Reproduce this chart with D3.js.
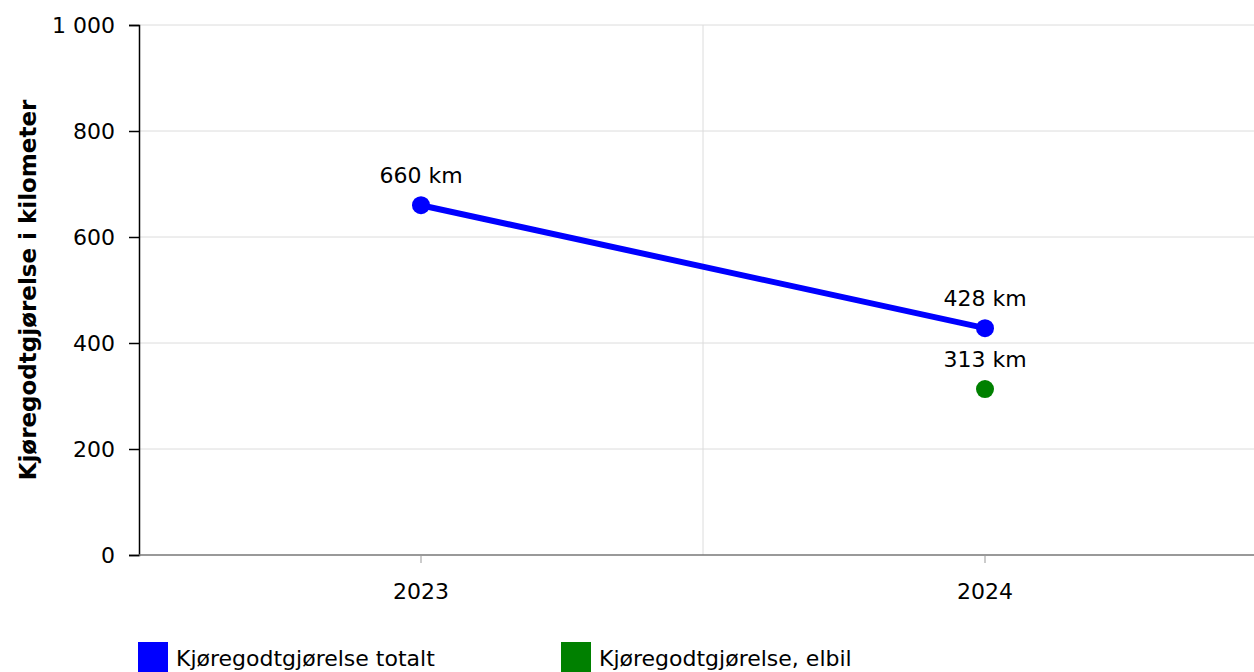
<!DOCTYPE html>
<html lang="no">
<head>
  <meta charset="UTF-8">
  <title>Kjøregodtgjørelse</title>
  <style>
    body { margin: 0; background: #fff; font-family: "DejaVu Sans", Verdana, sans-serif; }
    svg { display: block; }
  </style>
</head>
<body>
  <div id="chart"></div>
  <script src="https://d3js.org/d3.v7.min.js"></script>
  <script>
    // Data
    const years = ["2023", "2024"];
    const totalt = [660, 428];
    const elbil = [null, 313];
    const yTicks = [0, 200, 400, 600, 800, 1000];
    const seriesNames = ["Kjøregodtgjørelse totalt", "Kjøregodtgjørelse, elbil"];
    const seriesColors = ["#0000ff", "#008000"];

    const width = 1254, height = 672;
    const plotLeft = 139, plotTop = 25, plotBottom = 555, plotRight = 1267;
    const fontSize = 22;

    const svg = d3.select("#chart").append("svg")
      .attr("width", width).attr("height", height);

    const x = d3.scaleBand().domain(years).range([plotLeft, plotRight]);
    const y = d3.scaleLinear().domain([0, 1000]).range([plotBottom, plotTop]);
    const fmt = v => d3.format(",")(v).replace(/,/g, " ");

    // Gridlines
    svg.append("g").selectAll("line").data(yTicks.filter(d => d > 0)).join("line")
      .attr("x1", plotLeft).attr("x2", width)
      .attr("y1", d => y(d)).attr("y2", d => y(d))
      .attr("stroke", "#dcdcdc").attr("stroke-width", 1);
    svg.append("line")
      .attr("x1", x("2024")).attr("x2", x("2024"))
      .attr("y1", plotTop).attr("y2", plotBottom)
      .attr("stroke", "#dcdcdc").attr("stroke-width", 1);

    // Y axis
    const yAxis = svg.append("g")
      .attr("transform", `translate(${plotLeft},0)`)
      .call(d3.axisLeft(y).tickValues(yTicks).tickSize(10).tickPadding(14).tickFormat(fmt));
    yAxis.select(".domain").attr("stroke", "#000").attr("stroke-width", 1.5);
    yAxis.selectAll(".tick line").attr("stroke", "#000").attr("stroke-width", 1.5);
    yAxis.selectAll("text").attr("font-size", fontSize).attr("fill", "#000")
      .attr("font-family", "DejaVu Sans, sans-serif");

    // X axis
    const xAxis = svg.append("g")
      .attr("transform", `translate(0,${plotBottom})`)
      .call(d3.axisBottom(x).tickSize(8).tickPadding(20).tickSizeOuter(0));
    xAxis.select(".domain").attr("stroke", "#777").attr("stroke-width", 1.5)
      .attr("d", `M${plotLeft},0H${width}`);
    xAxis.selectAll(".tick line").attr("stroke", "#999");
    xAxis.selectAll("text").attr("font-size", fontSize).attr("fill", "#000")
      .attr("font-family", "DejaVu Sans, sans-serif");

    // Axis title
    svg.append("text")
      .attr("transform", `translate(36,${(plotTop + plotBottom) / 2}) rotate(-90)`)
      .attr("text-anchor", "middle")
      .attr("font-size", 23).attr("font-weight", "bold")
      .text("Kjøregodtgjørelse i kilometer");

    const cx = d => x(d) + x.bandwidth() / 2;

    // Totalt line
    const pts = years.map((yr, i) => ({ yr, v: totalt[i] }));
    svg.append("path").datum(pts)
      .attr("fill", "none").attr("stroke", seriesColors[0]).attr("stroke-width", 6)
      .attr("d", d3.line().x(d => cx(d.yr)).y(d => y(d.v)));
    svg.selectAll(".pt-tot").data(pts).join("circle")
      .attr("cx", d => cx(d.yr)).attr("cy", d => y(d.v)).attr("r", 9)
      .attr("fill", seriesColors[0]);
    svg.selectAll(".lb-tot").data(pts).join("text")
      .attr("x", d => cx(d.yr)).attr("y", d => y(d.v) - 22)
      .attr("text-anchor", "middle").attr("font-size", fontSize)
      .text(d => fmt(d.v) + " km");

    // Elbil points
    const ePts = years.map((yr, i) => ({ yr, v: elbil[i] })).filter(d => d.v != null);
    svg.selectAll(".pt-el").data(ePts).join("circle")
      .attr("cx", d => cx(d.yr)).attr("cy", d => y(d.v)).attr("r", 9)
      .attr("fill", seriesColors[1]);
    svg.selectAll(".lb-el").data(ePts).join("text")
      .attr("x", d => cx(d.yr)).attr("y", d => y(d.v) - 22)
      .attr("text-anchor", "middle").attr("font-size", fontSize)
      .text(d => fmt(d.v) + " km");

    // Legend
    const legendX = [138, 561];
    seriesNames.forEach((name, i) => {
      svg.append("rect")
        .attr("x", legendX[i]).attr("y", 642).attr("width", 30).attr("height", 32)
        .attr("fill", seriesColors[i]);
      svg.append("text")
        .attr("x", legendX[i] + 38).attr("y", 666)
        .attr("font-size", fontSize).text(name);
    });
  </script>
</body>
</html>
